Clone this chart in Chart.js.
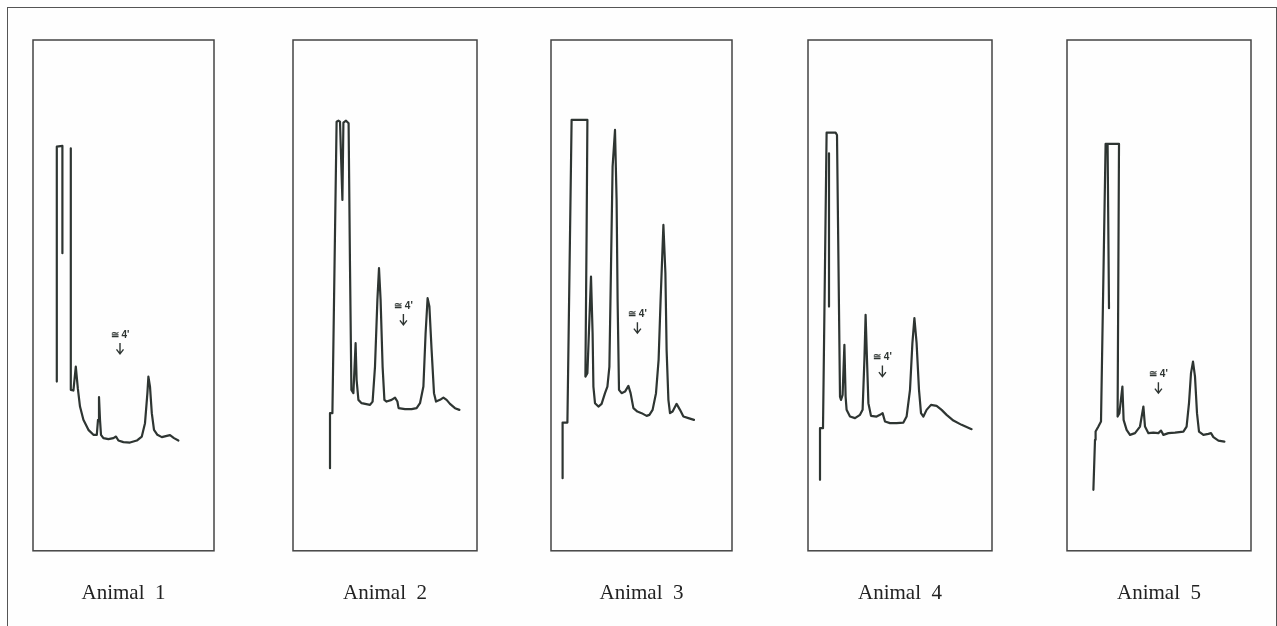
<!DOCTYPE html>
<html>
<head>
<meta charset="utf-8">
<script src="https://cdn.jsdelivr.net/npm/chart.js@4.4.0/dist/chart.umd.min.js"></script>
<style>
  html, body { margin: 0; padding: 0; background: #fff; }
  #page { position: relative; width: 1277px; height: 626px; overflow: hidden; background: #fefefe; }
  #frame { position: absolute; left: 7px; top: 7px; width: 1268px; height: 660px; border: 1.5px solid #555; }
  canvas { position: absolute; }
</style>
</head>
<body>
<div id="page"><div id="frame"></div></div>
<script>
// retention time (min) and detector signal; null = pen lift
const animal1Time   = [1.19, 1.19, 1.47, 1.47, null, 1.89, 1.89, 2.02, 2.14, 2.24, 2.35, 2.52, 2.77, 3.02, 3.19, 3.25, 3.3, 3.35, 3.4, 3.52, 3.77, 4.02, 4.15, 4.27, 4.52, 4.85, 5.19, 5.44, 5.6, 5.72, 5.77, 5.85, 5.94, 6.05, 6.22, 6.44, 6.69, 6.85, 7.05, 7.27];
const animal1Signal = [16.93, 40.43, 40.5, 29.77, null, 40.27, 16.1, 16.03, 18.43, 16.27, 14.43, 13.1, 12.1, 11.6, 11.6, 13.1, 15.37, 13.1, 11.6, 11.27, 11.17, 11.27, 11.43, 11.03, 10.87, 10.83, 11.03, 11.43, 12.77, 15.77, 17.43, 16.43, 13.77, 12.1, 11.6, 11.37, 11.5, 11.57, 11.27, 11.03];

const animal2Time   = [1.85, 1.85, 1.97, 2.18, 2.27, 2.35, 2.47, 2.52, 2.65, 2.78, 2.85, 2.92, 3.02, 3.13, 3.18, 3.27, 3.43, 3.85, 3.98, 4.1, 4.22, 4.3, 4.38, 4.48, 4.57, 4.68, 4.93, 5.1, 5.22, 5.28, 5.6, 5.93, 6.18, 6.35, 6.52, 6.63, 6.73, 6.82, 6.93, 7.05, 7.15, 7.35, 7.52, 7.68, 7.85, 8.1, 8.32];
const animal2Signal = [8.27, 13.77, 13.77, 42.93, 43.03, 42.93, 35.1, 42.83, 43.03, 42.77, 28.43, 16.1, 15.77, 20.77, 17.1, 15.1, 14.77, 14.6, 14.93, 18.43, 25.1, 28.27, 25.1, 18.43, 15.1, 14.93, 15.1, 15.33, 14.93, 14.27, 14.17, 14.17, 14.27, 14.77, 16.43, 21.77, 25.27, 24.43, 20.1, 15.77, 14.93, 15.1, 15.33, 15.1, 14.7, 14.27, 14.1];

const animal3Time   = [0.58, 0.58, 0.82, 1.03, 1.82, 1.78, 1.72, 1.82, 2.0, 2.08, 2.12, 2.2, 2.37, 2.53, 2.7, 2.82, 2.92, 3.0, 3.08, 3.2, 3.28, 3.33, 3.4, 3.53, 3.7, 3.87, 3.98, 4.12, 4.32, 4.53, 4.78, 4.92, 5.08, 5.25, 5.38, 5.48, 5.62, 5.72, 5.78, 5.87, 5.95, 6.08, 6.28, 6.45, 6.62, 6.87, 7.15];
const animal3Signal = [7.27, 12.83, 12.83, 43.1, 43.1, 31.77, 17.43, 17.77, 27.43, 21.77, 16.43, 14.77, 14.43, 14.7, 15.77, 16.43, 18.43, 28.43, 38.43, 42.1, 35.1, 25.1, 16.1, 15.77, 15.93, 16.5, 15.77, 14.27, 13.93, 13.77, 13.5, 13.6, 14.1, 15.77, 19.1, 25.1, 32.6, 27.77, 20.1, 15.1, 13.77, 13.93, 14.7, 14.1, 13.43, 13.27, 13.1];

const animal4Time   = [0.6, 0.6, 0.75, 0.93, 1.38, 1.45, 1.6, 1.65, 1.73, 1.82, 1.88, 1.93, 2.1, 2.35, 2.6, 2.73, 2.82, 2.88, 2.95, 3.02, 3.15, 3.43, 3.6, 3.73, 3.85, 4.1, 4.43, 4.77, 4.93, 5.1, 5.22, 5.32, 5.43, 5.55, 5.65, 5.77, 5.93, 6.15, 6.43, 6.68, 6.93, 7.27, 7.68, 8.18, null, 1.05, 1.05];
const animal4Signal = [7.1, 12.27, 12.27, 41.83, 41.83, 41.6, 15.43, 15.1, 15.6, 20.6, 15.43, 14.1, 13.43, 13.27, 13.6, 14.1, 19.1, 23.6, 19.1, 14.77, 13.5, 13.43, 13.6, 13.77, 12.93, 12.77, 12.77, 12.83, 13.43, 16.1, 20.77, 23.27, 20.77, 16.1, 13.77, 13.43, 14.1, 14.6, 14.5, 14.1, 13.6, 13.03, 12.6, 12.17, null, 39.77, 24.43];

const animal5Time   = [1.32, 1.4, 1.43, 1.57, 1.7, 1.93, 2.6, 2.53, 2.62, 2.77, 2.83, 2.98, 3.15, 3.4, 3.65, 3.82, 3.9, 4.07, 4.32, 4.57, 4.7, 4.82, 5.07, 5.4, 5.82, 5.98, 6.1, 6.2, 6.3, 6.4, 6.5, 6.6, 6.82, 7.07, 7.2, 7.32, 7.57, 7.87, null, 2.03, 2.1];
const animal5Signal = [6.1, 11.1, 11.93, 12.43, 12.93, 40.7, 40.7, 13.43, 13.77, 16.43, 13.1, 12.1, 11.6, 11.77, 12.43, 14.43, 12.43, 11.77, 11.83, 11.77, 12.03, 11.6, 11.77, 11.83, 11.93, 12.43, 14.77, 17.77, 18.93, 17.43, 13.77, 11.93, 11.6, 11.7, 11.77, 11.37, 11.03, 10.93, null, 40.6, 24.27];

const animalLabels = ['Animal  1', 'Animal  2', 'Animal  3', 'Animal  4', 'Animal  5'];
const markerTime   = [4.35, 5.52, 4.32, 3.72, 4.57];
const markerLevel  = [19.7, 22.6, 21.77, 17.43, 15.77];
const markerText   = "\u2245 4'";

const traceTimes   = [animal1Time, animal2Time, animal3Time, animal4Time, animal5Time];
const traceSignals = [animal1Signal, animal2Signal, animal3Signal, animal4Signal, animal5Signal];

// layout of the five boxes on the page
const boxLeft  = [33, 293, 551, 808, 1067];
const boxWidth = [181, 184, 181, 184, 184];
const PX_PER_MIN = 20;
const SIGNAL_MAX = 51.1;
const PAD = 10;
const TRACE = '#2e3532';

const boxPlugin = {
    id: 'box',
    beforeDatasetsDraw(chart) {
        const a = chart.chartArea, ctx = chart.ctx;
        ctx.save();
        ctx.strokeStyle = '#444';
        ctx.lineWidth = 1.5;
        ctx.strokeRect(a.left, a.top, a.right - a.left, a.bottom - a.top);
        ctx.restore();
    }
};

const markerPlugin = {
    id: 'marker',
    afterDatasetsDraw(chart, args, opts) {
        const ctx = chart.ctx;
        const px = chart.scales.x.getPixelForValue(opts.time);
        const py = chart.scales.y.getPixelForValue(opts.level);
        ctx.save();
        ctx.strokeStyle = TRACE;
        ctx.lineWidth = 1.4;
        ctx.beginPath();
        ctx.moveTo(px, py - 11);
        ctx.lineTo(px, py);
        ctx.moveTo(px - 3.5, py - 4.5);
        ctx.lineTo(px, py);
        ctx.lineTo(px + 3.5, py - 4.5);
        ctx.stroke();
        ctx.fillStyle = TRACE;
        ctx.font = "bold 10px 'Liberation Sans', Arial, sans-serif";
        ctx.textAlign = 'center';
        ctx.textBaseline = 'middle';
        ctx.fillText(opts.text, px, py - 19);
        ctx.restore();
    }
};

const page = document.getElementById('page');

for (let i = 0; i < 5; i++) {
    const canvas = document.createElement('canvas');
    canvas.width = boxWidth[i] + 2 * PAD;
    canvas.height = 586;
    canvas.style.left = (boxLeft[i] - PAD) + 'px';
    canvas.style.top = '30px';
    page.appendChild(canvas);

    const points = traceTimes[i].map((t, j) => ({ x: t, y: traceSignals[i][j] }));

    new Chart(canvas, {
        type: 'scatter',
        data: {
            datasets: [{
                data: points,
                showLine: true,
                spanGaps: false,
                borderColor: TRACE,
                borderWidth: 2.2,
                borderJoinStyle: 'round',
                borderCapStyle: 'round',
                pointRadius: 0,
                tension: 0
            }]
        },
        options: {
            responsive: false,
            animation: false,
            devicePixelRatio: 1,
            layout: { padding: { left: PAD, right: PAD, top: PAD, bottom: PAD } },
            scales: {
                x: { type: 'linear', display: false, min: 0, max: boxWidth[i] / PX_PER_MIN },
                y: { type: 'linear', display: false, min: 0, max: SIGNAL_MAX }
            },
            plugins: {
                legend: { display: false },
                tooltip: { enabled: false },
                title: {
                    display: true,
                    position: 'bottom',
                    text: animalLabels[i],
                    color: '#222',
                    font: { family: "'Liberation Serif', 'Times New Roman', serif", size: 21, weight: 'normal' },
                    padding: { top: 30, bottom: 0 }
                },
                marker: { time: markerTime[i], level: markerLevel[i], text: markerText }
            }
        },
        plugins: [boxPlugin, markerPlugin]
    });
}
</script>
</body>
</html>
